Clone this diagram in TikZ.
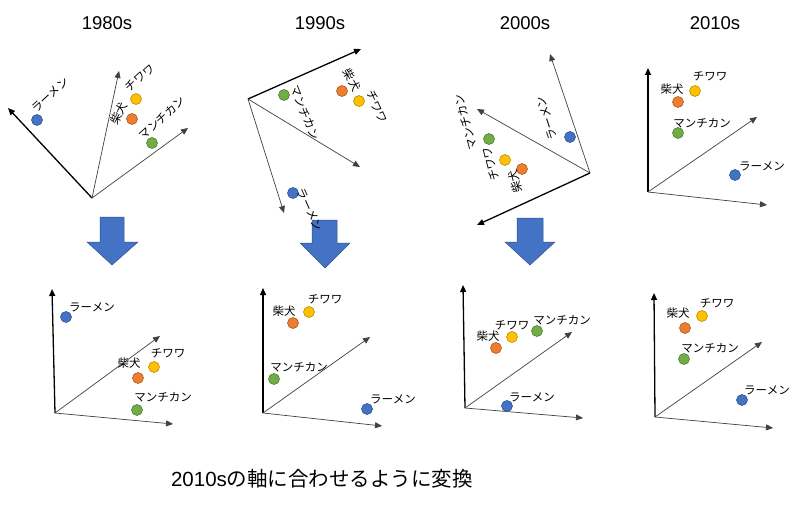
\documentclass[tikz,border=0pt]{standalone}
\usepackage{fontspec}
\setmainfont{Liberation Sans}
\newfontfamily\jp{Noto Sans CJK JP}
\usetikzlibrary{arrows.meta}
\definecolor{cblue}{HTML}{4472C4}
\definecolor{cblueD}{HTML}{2F528F}
\definecolor{corange}{HTML}{ED7D31}
\definecolor{corangeD}{HTML}{AE5A21}
\definecolor{cyellow}{HTML}{FFC000}
\definecolor{cyellowD}{HTML}{BC8C00}
\definecolor{cgreen}{HTML}{70AD47}
\definecolor{cgreenD}{HTML}{507E32}
\tikzset{
  axthick/.style={line width=1.3pt, draw=black, -{Triangle[length=7pt,width=6pt]}},
  axthin/.style={line width=0.7pt, draw=black!75, -{Triangle[length=7pt,width=6pt]}},
  dot/.style={circle, inner sep=0pt, minimum size=11pt, line width=0.6pt},
  dblue/.style={dot, fill=cblue, draw=cblueD},
  dorange/.style={dot, fill=corange, draw=corangeD},
  dyellow/.style={dot, fill=cyellow, draw=cyellowD},
  dgreen/.style={dot, fill=cgreen, draw=cgreenD},
  lbl/.style={font=\jp\fontsize{11.5}{13}\selectfont, inner sep=0pt},
  ttl/.style={font=\fontsize{18.5}{22}\selectfont, inner sep=0pt},
  bigarrow/.style={fill=cblue, draw=cblueD, line width=0.5pt}
}
\begin{document}
\begin{tikzpicture}[x=1pt,y=-1pt]
\useasboundingbox (0,0) rectangle (800,505);

% titles
\node[ttl] (t1) at (107,23) {1980s};
\node[ttl] (t2) at (320,23) {1990s};
\node[ttl] (t3) at (525,23) {2000s};
\node[ttl] (t4) at (715,23) {2010s};

% big blue arrows
\draw[bigarrow] (100,217) -- (124,217) -- (124,242) -- (138,242) -- (112,265) -- (87,242) -- (100,242) -- cycle;
\draw[bigarrow] (312,220) -- (337,220) -- (337,243) -- (350,243) -- (325,268) -- (300,243) -- (312,243) -- cycle;
\draw[bigarrow] (517,218) -- (543,218) -- (543,242) -- (555,242) -- (530,265) -- (505,242) -- (517,242) -- cycle;

% ---------- Panel 1 (1980s) ----------
\coordinate (o1) at (92,198);
\coordinate (a1) at (8,108);
\coordinate (b1) at (119,71);
\coordinate (c1) at (188,128);
\draw[axthick] (o1) -- (a1);
\draw[axthin] (o1) -- (b1);
\draw[axthin] (o1) -- (c1);
\node[dblue] (p1r) at (37,120) {};
\node[dorange] (p1s) at (132,119) {};
\node[dyellow] (p1c) at (136,99) {};
\node[dgreen] (p1m) at (152,143) {};
\node[lbl, rotate=43] (l1r) at (50,95) {ラーメン};
\node[lbl, rotate=42] (l1c) at (140,78) {チワワ};
\node[lbl, rotate=62] (l1s) at (119,113) {柴犬};
\node[lbl, rotate=42] (l1m) at (162,118) {マンチカン};

% ---------- Panel 2 (1990s) ----------
\coordinate (o2) at (248,99);
\coordinate (a2) at (361,49);
\coordinate (b2) at (360,167);
\coordinate (c2) at (284,213);
\draw[axthick] (o2) -- (a2);
\draw[axthin] (o2) -- (b2);
\draw[axthin] (o2) -- (c2);
\node[dgreen] (p2m) at (284,95) {};
\node[dorange] (p2s) at (342,91) {};
\node[dyellow] (p2c) at (359,101) {};
\node[dblue] (p2r) at (293,193) {};
\node[lbl, rotate=-68] (l2m) at (305,113) {マンチカン};
\node[lbl, rotate=-62] (l2s) at (352,80) {柴犬};
\node[lbl, rotate=-66] (l2c) at (377,107) {チワワ};
\node[lbl, rotate=-66] (l2r) at (310,210) {ラーメン};

% ---------- Panel 3 (2000s) ----------
\coordinate (o3) at (590,173);
\coordinate (a3) at (477,225);
\coordinate (b3) at (477,109);
\coordinate (c3) at (550,54);
\draw[axthick] (o3) -- (a3);
\draw[axthin] (o3) -- (b3);
\draw[axthin] (o3) -- (c3);
\node[dblue] (p3r) at (570,137) {};
\node[dgreen] (p3m) at (489,139) {};
\node[dyellow] (p3c) at (505,160) {};
\node[dorange] (p3s) at (522,169) {};
\node[lbl, rotate=108] (l3r) at (547,118) {ラーメン};
\node[lbl, rotate=105] (l3m) at (466,122) {マンチカン};
\node[lbl, rotate=105] (l3c) at (491,164) {チワワ};
\node[lbl, rotate=105] (l3s) at (515,182) {柴犬};

% ---------- Panel 4 (2010s) ----------
\coordinate (o4) at (648,192);
\coordinate (a4) at (648,68);
\coordinate (b4) at (757,117);
\coordinate (c4) at (767,205);
\draw[axthick] (o4) -- (a4);
\draw[axthin] (o4) -- (b4);
\draw[axthin] (o4) -- (c4);
\node[dyellow] (p4c) at (695,91) {};
\node[dorange] (p4s) at (678,102) {};
\node[dgreen] (p4m) at (678,133) {};
\node[dblue] (p4r) at (735,175) {};
\node[lbl] (l4c) at (710,76) {チワワ};
\node[lbl] (l4s) at (672,89) {柴犬};
\node[lbl] (l4m) at (702,123) {マンチカン};
\node[lbl] (l4r) at (762,166) {ラーメン};

% ---------- Panel 5 ----------
\coordinate (o5) at (55,413);
\coordinate (a5) at (52,289);
\coordinate (b5) at (160,336);
\coordinate (c5) at (173,424);
\draw[axthick] (o5) -- (a5);
\draw[axthin] (o5) -- (b5);
\draw[axthin] (o5) -- (c5);
\node[dblue] (p5r) at (66,317) {};
\node[dyellow] (p5c) at (154,367) {};
\node[dorange] (p5s) at (138,378) {};
\node[dgreen] (p5m) at (137,410) {};
\node[lbl] (l5r) at (92,307) {ラーメン};
\node[lbl] (l5c) at (168,353) {チワワ};
\node[lbl] (l5s) at (129,363) {柴犬};
\node[lbl] (l5m) at (163,397) {マンチカン};

% ---------- Panel 6 ----------
\coordinate (o6) at (263,413);
\coordinate (a6) at (263,288);
\coordinate (b6) at (370,337);
\coordinate (c6) at (382,426);
\draw[axthick] (o6) -- (a6);
\draw[axthin] (o6) -- (b6);
\draw[axthin] (o6) -- (c6);
\node[dyellow] (p6c) at (309,312) {};
\node[dorange] (p6s) at (293,323) {};
\node[dgreen] (p6m) at (274,379) {};
\node[dblue] (p6r) at (367,409) {};
\node[lbl] (l6c) at (325,299) {チワワ};
\node[lbl] (l6s) at (284,311) {柴犬};
\node[lbl] (l6m) at (299,367) {マンチカン};
\node[lbl] (l6r) at (393,399) {ラーメン};

% ---------- Panel 7 ----------
\coordinate (o7) at (465,408);
\coordinate (a7) at (463,285);
\coordinate (b7) at (572,332);
\coordinate (c7) at (583,418);
\draw[axthick] (o7) -- (a7);
\draw[axthin] (o7) -- (b7);
\draw[axthin] (o7) -- (c7);
\node[dorange] (p7s) at (496,348) {};
\node[dyellow] (p7c) at (512,337) {};
\node[dgreen] (p7m) at (537,331) {};
\node[dblue] (p7r) at (507,406) {};
\node[lbl] (l7s) at (488,336) {柴犬};
\node[lbl] (l7c) at (512,325) {チワワ};
\node[lbl] (l7m) at (562,320) {マンチカン};
\node[lbl] (l7r) at (532,397) {ラーメン};

% ---------- Panel 8 ----------
\coordinate (o8) at (655,417);
\coordinate (a8) at (654,293);
\coordinate (b8) at (762,342);
\coordinate (c8) at (773,428);
\draw[axthick] (o8) -- (a8);
\draw[axthin] (o8) -- (b8);
\draw[axthin] (o8) -- (c8);
\node[dyellow] (p8c) at (702,316) {};
\node[dorange] (p8s) at (685,328) {};
\node[dgreen] (p8m) at (684,359) {};
\node[dblue] (p8r) at (742,400) {};
\node[lbl] (l8c) at (717,303) {チワワ};
\node[lbl] (l8s) at (678,313) {柴犬};
\node[lbl] (l8m) at (710,348) {マンチカン};
\node[lbl] (l8r) at (767,390) {ラーメン};

% caption
\node[inner sep=0pt, font=\fontsize{20.5}{24}\selectfont] (cap) at (322,479) {2010s{\jp の軸に合わせるように変換}};
\end{tikzpicture}
\end{document}
